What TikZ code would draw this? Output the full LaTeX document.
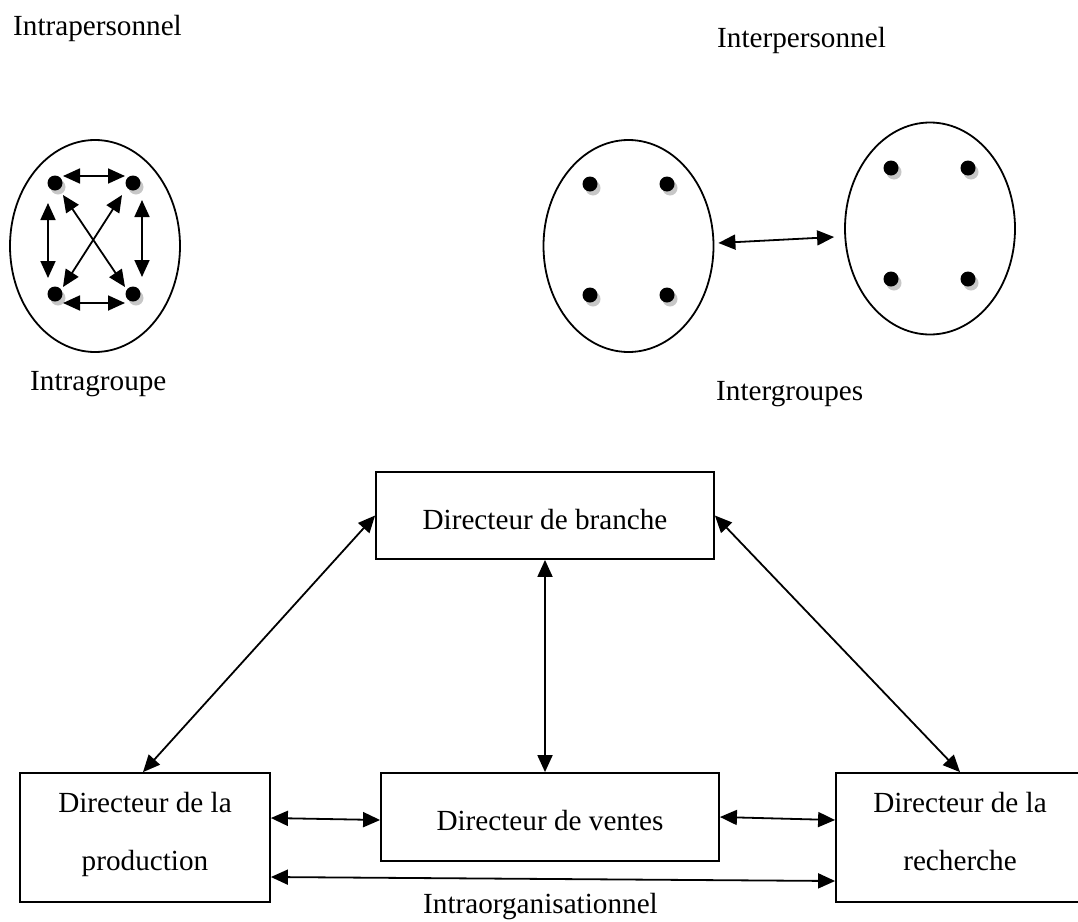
\documentclass[tikz,border=0pt]{standalone}
\usepackage{fontspec}
\setmainfont{Liberation Serif}
\usetikzlibrary{arrows.meta,shapes.geometric,calc}
\begin{document}
\begin{tikzpicture}[x=1pt,y=-1pt,
  every node/.style={font=\fontsize{29.2}{35}\selectfont},
  grp/.style={draw,ellipse,line width=1.8pt,minimum width=170pt,minimum height=212pt,inner sep=0pt},
  dot/.style={circle,fill=black,minimum size=15pt,inner sep=0pt},
  shade/.style={circle,fill=black!22,minimum size=15pt,inner sep=0pt},
  arr/.style={line width=1.8pt,{Triangle[length=17pt,width=15pt]}-{Triangle[length=17pt,width=15pt]}},
  box/.style={draw,line width=1.8pt,rectangle,inner sep=0pt,text height=30pt,text depth=3pt},
  lbl/.style={anchor=base west,inner sep=0pt},
  btxt/.style={anchor=base,inner sep=0pt}]
\useasboundingbox (0,0) rectangle (1078,921);

% groups
\node[grp] (e1) at (95,246) {};
\node[grp] (e2) at (628.5,246) {};
\node[grp] (e3) at (930,228.5) {};

\foreach \n/\x/\y in {a1/55/183,a2/133/183,a3/55/294,a4/133/294,
                      b1/590/184,b2/667/184,b3/590/295,b4/667/295,
                      c1/891/168,c2/968/168,c3/891/279,c4/968/279}{
  \node[shade] (\n s) at (\x+3,\y+4) {};
  \node[dot] (\n) at (\x,\y) {};
}

% intragroup arrows
\draw[arr] ($(a1)+(8,-7)$) -- ($(a2)+(-8,-7)$);
\draw[arr] ($(a3)+(8,9)$) -- ($(a4)+(-8,9)$);
\draw[arr] ($(a1)+(-7,20)$) -- ($(a3)+(-7,-16)$);
\draw[arr] ($(a2)+(9,17)$) -- ($(a4)+(9,-17)$);
\draw[arr] ($(a1)+(8,12)$) -- ($(a4)+(-8,-7)$);
\draw[arr] ($(a2)+(-11,12)$) -- ($(a3)+(8,-7)$);

% intergroup arrow
\draw[arr] ($(e2.east)+(4,-3)$) -- ($(e3.west)+(-10,8.5)$);

% boxes
\node[box,minimum width=338pt,minimum height=87pt] (branch) at (545,515.5) {Directeur de branche};
\node[box,minimum width=338pt,minimum height=88pt] (ventes) at (550,817) {Directeur de ventes};
\node[box,minimum width=250pt,minimum height=129pt] (prod) at (145,837.5) {};
\node[box,minimum width=248pt,minimum height=129pt] (rech) at (960,837.5) {};
\node[btxt] (prod1) at (145,812) {Directeur de la};
\node[btxt] (prod2) at (145,870) {production};
\node[btxt] (rech1) at (960,812) {Directeur de la};
\node[btxt] (rech2) at (960,870) {recherche};

% organisation arrows
\draw[arr] (branch.west) -- ($(prod.north)+(-2,0)$);
\draw[arr] (branch.east) -- (rech.north);
\draw[arr] (branch.south) -- (branch.south |- ventes.north);
\draw[arr] ($(prod.east)+(0,-19.5)$) -- ($(ventes.west)+(0,3)$);
\draw[arr] (ventes.east) -- ($(rech.west)+(0,-17.5)$);
\draw[arr] ($(prod.east)+(0,39.5)$) -- ($(rech.west)+(0,43.5)$);

% labels
\node[lbl] (t1) at (13,35) {Intrapersonnel};
\node[lbl] (t2) at (717,47) {Interpersonnel};
\node[lbl] (t3) at (30,390) {Intragroupe};
\node[lbl] (t4) at (716,400) {Intergroupes};
\node[lbl] (t5) at (423,913) {Intraorganisationnel};
\end{tikzpicture}
\end{document}
